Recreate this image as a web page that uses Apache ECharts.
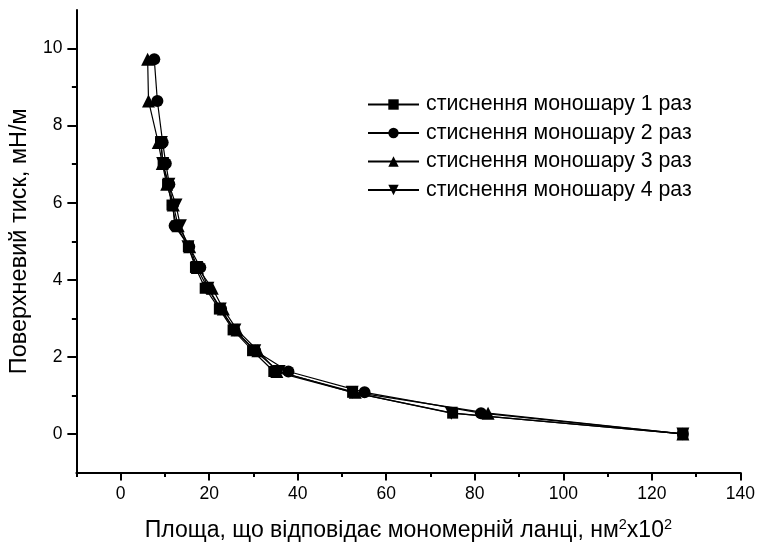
<!DOCTYPE html>
<html>
<head>
<meta charset="utf-8">
<script src="https://cdn.jsdelivr.net/npm/echarts@6/dist/echarts.min.js"></script>
<style>
  html, body { margin: 0; padding: 0; background: #fff; }
  #chart { width: 758px; height: 547px; }
</style>
</head>
<body>
<div id="chart"></div>
<script>
// Surface pressure levels (mN/m) at which the isotherms were sampled
const pressure = [9.72, 8.64, 7.56, 7.02, 6.48, 5.94, 5.40, 4.86, 4.32, 3.78, 3.24, 2.70, 2.16, 1.62, 1.08, 0.54, 0];

// Area per monomer unit (nm² x10²) for each compression run; null = no reading at that level
const area1 = [null, null, 9.0, 9.6, 10.6, 11.6, 12.6, 15.3, 16.9, 19.1, 22.3, 25.4, 29.8, 34.6, 52.4, 75.0, 127];
const area2 = [7.6, 8.3, 9.5, 10.2, 11.0, 11.8, 12.2, 15.5, 18.0, 19.8, 22.7, 25.7, 30.4, 37.9, 55.1, 81.4, 127];
const area3 = [6.1, 6.3, 8.5, 9.4, 10.4, 11.9, 13.0, 15.6, 17.3, 20.7, 23.2, 26.3, 31.0, 35.3, 53.0, 83.0, 127];
const area4 = [null, null, 9.2, 9.5, 10.9, 12.5, 13.5, 15.2, 17.2, 19.7, 22.5, 25.8, 30.3, 35.8, 52.3, 74.7, 127];

const seriesNames = [
  'стиснення моношару 1 раз',
  'стиснення моношару 2 раз',
  'стиснення моношару 3 раз',
  'стиснення моношару 4 раз'
];
const seriesSymbols = ['rect', 'circle', 'triangle', 'path://M0,0 L10,0 L5,10 Z'];
const seriesSizes = [11, 12, 13, 13];
const seriesAreas = [area1, area2, area3, area4];

// Tick positions
const xMajorTicks = [0, 20, 40, 60, 80, 100, 120, 140];
const xMinorTicks = [-10, 10, 30, 50, 70, 90, 110, 130];
const yMajorTicks = [0, 2, 4, 6, 8, 10];
const yMinorTicks = [1, 3, 5, 7, 9];

const FONT = 'Liberation Sans, Arial, sans-serif';

function pairs(xs) {
  const out = [];
  xs.forEach((x, i) => { if (x !== null) out.push([x, pressure[i]]); });
  return out;
}

const series = seriesNames.map((name, i) => ({
  name: name,
  type: 'line',
  xAxisIndex: 0,
  yAxisIndex: 0,
  data: pairs(seriesAreas[i]),
  symbol: seriesSymbols[i],
  symbolSize: seriesSizes[i],
  showAllSymbol: true,
  lineStyle: { color: '#000', width: 1.2 },
  itemStyle: { color: '#000', borderWidth: 0 },
  emphasis: { disabled: true },
  animation: false
}));

const axisLine = { show: true, onZero: false, lineStyle: { color: '#000', width: 2 } };
const tickStyle = { color: '#000', width: 2 };

const chart = echarts.init(document.getElementById('chart'), null, { renderer: 'canvas' });
chart.setOption({
  backgroundColor: '#fff',
  animation: false,
  grid: { left: 76, right: 16, top: 10, bottom: 71 },
  legend: {
    orient: 'vertical',
    left: 367,
    top: 94,
    padding: 0,
    itemWidth: 51,
    itemHeight: 13,
    itemGap: 7.5,
    textStyle: { fontFamily: FONT, fontSize: 21.3, color: '#000', padding: [0, 0, 0, 2] },
    data: seriesNames
  },
  xAxis: [
    {
      type: 'value',
      min: -10,
      max: 140,
      interval: 10,
      position: 'bottom',
      axisLine: axisLine,
      splitLine: { show: false },
      axisTick: { show: true, inside: false, length: 8, customValues: xMajorTicks, lineStyle: tickStyle },
      axisLabel: { show: true, customValues: xMajorTicks, margin: 13, fontFamily: FONT, fontSize: 17.5, color: '#000' },
      name: 'Площа, що відповідає мономерній ланці, нм{sup|2}x10{sup|2}',
      nameLocation: 'middle',
      nameGap: 45,
      nameTextStyle: {
        fontFamily: FONT, fontSize: 23, color: '#000',
        rich: { sup: { fontFamily: FONT, fontSize: 14.5, color: '#000', verticalAlign: 'top', padding: [0, 0, 11, 0] } }
      }
    },
    {
      type: 'value',
      min: -10,
      max: 140,
      interval: 10,
      position: 'bottom',
      axisLine: { show: false, onZero: false },
      splitLine: { show: false },
      axisTick: { show: true, inside: false, length: 4.5, customValues: xMinorTicks, lineStyle: tickStyle },
      axisLabel: { show: false }
    }
  ],
  yAxis: [
    {
      type: 'value',
      min: -1,
      max: 11,
      interval: 1,
      position: 'left',
      axisLine: axisLine,
      splitLine: { show: false },
      axisTick: { show: true, inside: false, length: 9, customValues: yMajorTicks, lineStyle: tickStyle },
      axisLabel: { show: true, customValues: yMajorTicks, margin: 14, fontFamily: FONT, fontSize: 17.5, color: '#000' },
      name: 'Поверхневий тиск, мН/м',
      nameLocation: 'middle',
      nameGap: 42,
      nameRotate: 90,
      nameTextStyle: { fontFamily: FONT, fontSize: 23.5, color: '#000' }
    },
    {
      type: 'value',
      min: -1,
      max: 11,
      interval: 1,
      position: 'left',
      axisLine: { show: false, onZero: false },
      splitLine: { show: false },
      axisTick: { show: true, inside: false, length: 4.5, customValues: yMinorTicks, lineStyle: tickStyle },
      axisLabel: { show: false }
    }
  ],
  series: series
});
</script>
</body>
</html>
